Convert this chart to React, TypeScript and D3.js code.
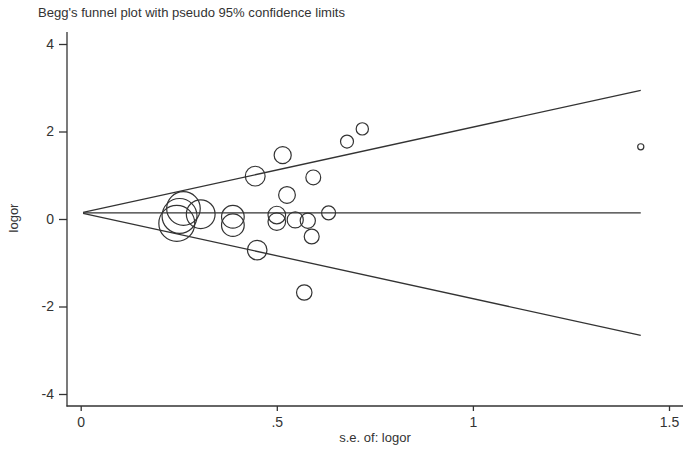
import * as d3 from "d3";
import React, { useEffect, useRef } from "react";

// studies: standard error and log odds ratio
const seValues = [
  0.515, 0.445, 0.593, 0.526, 0.262, 0.245, 0.252, 0.306, 0.388, 0.388, 0.5,
  0.5, 0.547, 0.579, 0.632, 0.589, 0.45, 0.57, 0.679, 0.718, 1.428,
];
const logorValues = [
  1.46, 0.98, 0.95, 0.55, 0.24, -0.1, 0.07, 0.11, 0.05, -0.14, 0.09, -0.06,
  -0.02, -0.04, 0.14, -0.4, -0.71, -1.68, 1.77, 2.06, 1.65,
];

// pooled estimate and range of the pseudo limits
const pooled = 0.14;
const limitSe = [0.006, 1.428];

const yTicks = [-4, -2, 0, 2, 4];
const xTicks = [0, 0.5, 1, 1.5];

const title = "Begg's funnel plot with pseudo 95% confidence limits";
const xTitle = "s.e. of: logor";
const yTitle = "logor";

const App = () => {
  const svgRef = useRef(null);

  useEffect(() => {
    document.body.style.margin = "0";
    const width = 685;
    const height = 451;
    const ink = "#333";
    const font = "'Liberation Sans', Arial, sans-serif";

    const svg = d3.select(svgRef.current);
    svg.selectAll("*").remove();
    svg.attr("width", width).attr("height", height);

    const x = d3.scaleLinear().domain([0, 1.5]).range([80.7, 669]);
    const y = d3.scaleLinear().domain([-4, 4]).range([394, 44]);

    // marker size grows with the study weight (1 / se^2)
    const weights = seValues.map((s) => 1 / (s * s));
    const r = d3
      .scaleSqrt()
      .domain([0, d3.max(weights)])
      .range([0, 4.4 / d3.min(seValues)]);

    // title
    svg
      .append("text")
      .attr("x", 38)
      .attr("y", 17)
      .attr("font-family", font)
      .attr("font-size", 13)
      .attr("fill", ink)
      .attr("textLength", 307)
      .attr("lengthAdjust", "spacingAndGlyphs")
      .text(title);

    // axes lines
    svg
      .append("line")
      .attr("x1", 67)
      .attr("x2", 67)
      .attr("y1", 32)
      .attr("y2", 406.5)
      .attr("stroke", ink)
      .attr("stroke-width", 1.3);
    svg
      .append("line")
      .attr("x1", 66.5)
      .attr("x2", 683)
      .attr("y1", 406)
      .attr("y2", 406)
      .attr("stroke", ink)
      .attr("stroke-width", 1.3);

    const yAxis = svg
      .append("g")
      .attr("transform", "translate(67,0)")
      .call(
        d3
          .axisLeft(y)
          .tickValues(yTicks)
          .tickSize(8)
          .tickPadding(5)
          .tickFormat((d) => String(d))
      );
    yAxis.select(".domain").remove();

    const xAxis = svg
      .append("g")
      .attr("transform", "translate(0,406)")
      .call(
        d3
          .axisBottom(x)
          .tickValues(xTicks)
          .tickSize(5)
          .tickPadding(6)
          .tickFormat((d) => String(d).replace(/^0\./, "."))
      );
    xAxis.select(".domain").remove();

    [yAxis, xAxis].forEach((ax) => {
      ax.selectAll("line").attr("stroke", ink).attr("stroke-width", 1.3);
      ax.selectAll("text")
        .attr("fill", ink)
        .attr("font-size", 14)
        .attr("font-family", font);
    });

    // axis titles
    svg
      .append("text")
      .attr("transform", "translate(18,218) rotate(-90)")
      .attr("text-anchor", "middle")
      .attr("font-family", font)
      .attr("font-size", 13)
      .attr("fill", ink)
      .text(yTitle);
    svg
      .append("text")
      .attr("x", 375)
      .attr("y", 442)
      .attr("text-anchor", "middle")
      .attr("font-family", font)
      .attr("font-size", 13)
      .attr("fill", ink)
      .text(xTitle);

    // pooled line and pseudo 95% limits
    const line = d3
      .line()
      .x((d) => x(d[0]))
      .y((d) => y(d[1]));
    [0, 1.96, -1.96].forEach((z) => {
      svg
        .append("path")
        .datum(limitSe.map((s) => [s, pooled + z * s]))
        .attr("fill", "none")
        .attr("stroke", ink)
        .attr("stroke-width", 1.3)
        .attr("d", line);
    });

    // studies
    svg
      .append("g")
      .selectAll("circle")
      .data(seValues.map((s, i) => ({ se: s, lo: logorValues[i], w: weights[i] })))
      .join("circle")
      .attr("cx", (d) => x(d.se))
      .attr("cy", (d) => y(d.lo))
      .attr("r", (d) => r(d.w))
      .attr("fill", "none")
      .attr("stroke", ink)
      .attr("stroke-width", 1.2);
  }, []);

  return <svg ref={svgRef} style={{ display: "block" }}></svg>;
};

export default App;
